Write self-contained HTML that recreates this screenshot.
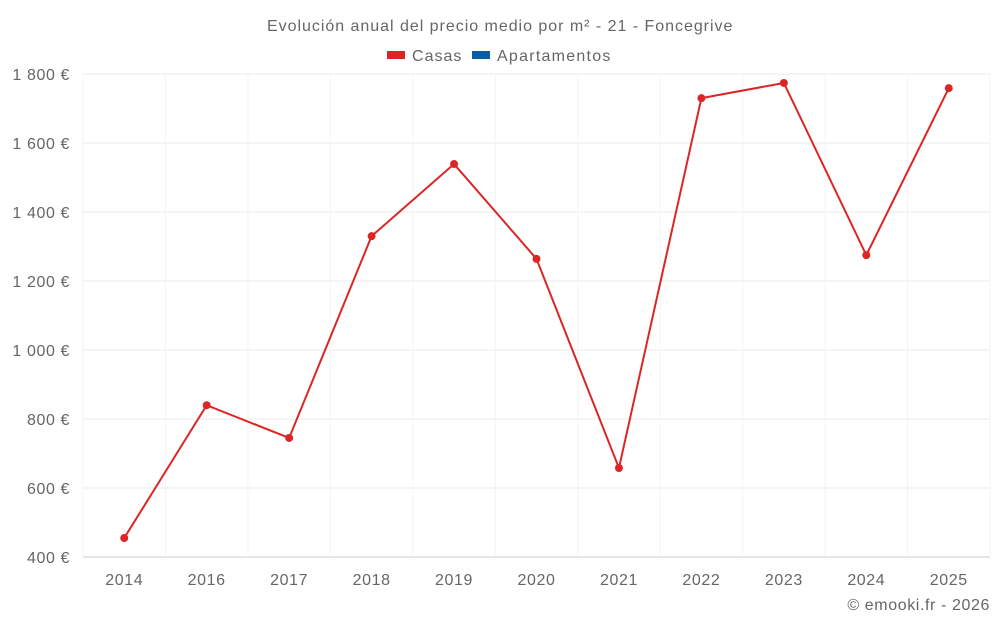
<!DOCTYPE html>
<html><head><meta charset="utf-8"><style>
body{margin:0;background:#fff;font-family:"Liberation Sans",sans-serif;}
svg text{font-family:"Liberation Sans",sans-serif;fill:#666;letter-spacing:0.6px;}
</style></head><body>
<svg id="chart" width="1000" height="625">
<text x="500" y="31" text-anchor="middle" font-size="16" textLength="466">Evolución anual del precio medio por m² - 21 - Foncegrive</text>
<g>
<rect x="387" y="51" width="18" height="8" fill="#dc2626"/>
<text x="412" y="61" font-size="16" textLength="50">Casas</text>
<rect x="472" y="51" width="18" height="8" fill="#0a5ea8"/>
<text x="497" y="61" font-size="16" textLength="114">Apartamentos</text>
</g>
<g id="grid"></g><g id="axes"></g><g id="series"></g>
<text x="990" y="610" text-anchor="end" font-size="16">© emooki.fr - 2026</text>
</svg>
<script>
const categories=["2014","2016","2017","2018","2019","2020","2021","2022","2023","2024","2025"];
const casas=[455,840,745,1330,1539,1264,658,1730,1774,1275,1759];
const yTicks=[400,600,800,1000,1200,1400,1600,1800];
const yLabels=["400 €","600 €","800 €","1 000 €","1 200 €","1 400 €","1 600 €","1 800 €"];
const NS="http://www.w3.org/2000/svg";
const L=83,R=990,T=74,B=557,yMin=400,yMax=1800;
const y=v=>B-(v-yMin)/(yMax-yMin)*(B-T);
const bw=(R-L)/categories.length;
const x=i=>L+bw*(i+0.5);
function mk(tag,attrs,parent){const e=document.createElementNS(NS,tag);for(const k in attrs)e.setAttribute(k,attrs[k]);document.getElementById(parent).appendChild(e);return e;}
yTicks.forEach((v,i)=>{
 const g=mk("line",{x1:L,x2:R,y1:y(v),y2:y(v),stroke:i==0?"#ccc":"#ebebeb","stroke-width":1},"grid");
 
 
 const t=mk("text",{x:70,y:y(v)+6,"text-anchor":"end","font-size":16},"axes");
 t.textContent=yLabels[i];
 
 
});
for(let i=0;i<=categories.length;i++){
 const g=mk("line",{x1:L+bw*i,x2:L+bw*i,y1:T,y2:B,stroke:"#f4f4f4","stroke-width":1},"grid");
 
 
}
categories.forEach((c,i)=>{
 const t=mk("text",{x:x(i),y:585,"text-anchor":"middle","font-size":16},"axes");
 t.textContent=c;
 
 
});
const p=mk("polyline",{points:casas.map((v,i)=>x(i)+","+y(v)).join(" "),fill:"none",stroke:"#dc2626","stroke-width":2},"series");


casas.forEach((v,i)=>{
 const c=mk("circle",{cx:x(i),cy:y(v),r:4,fill:"#dc2626"},"series");
 
 
});
</script>
</body></html>
